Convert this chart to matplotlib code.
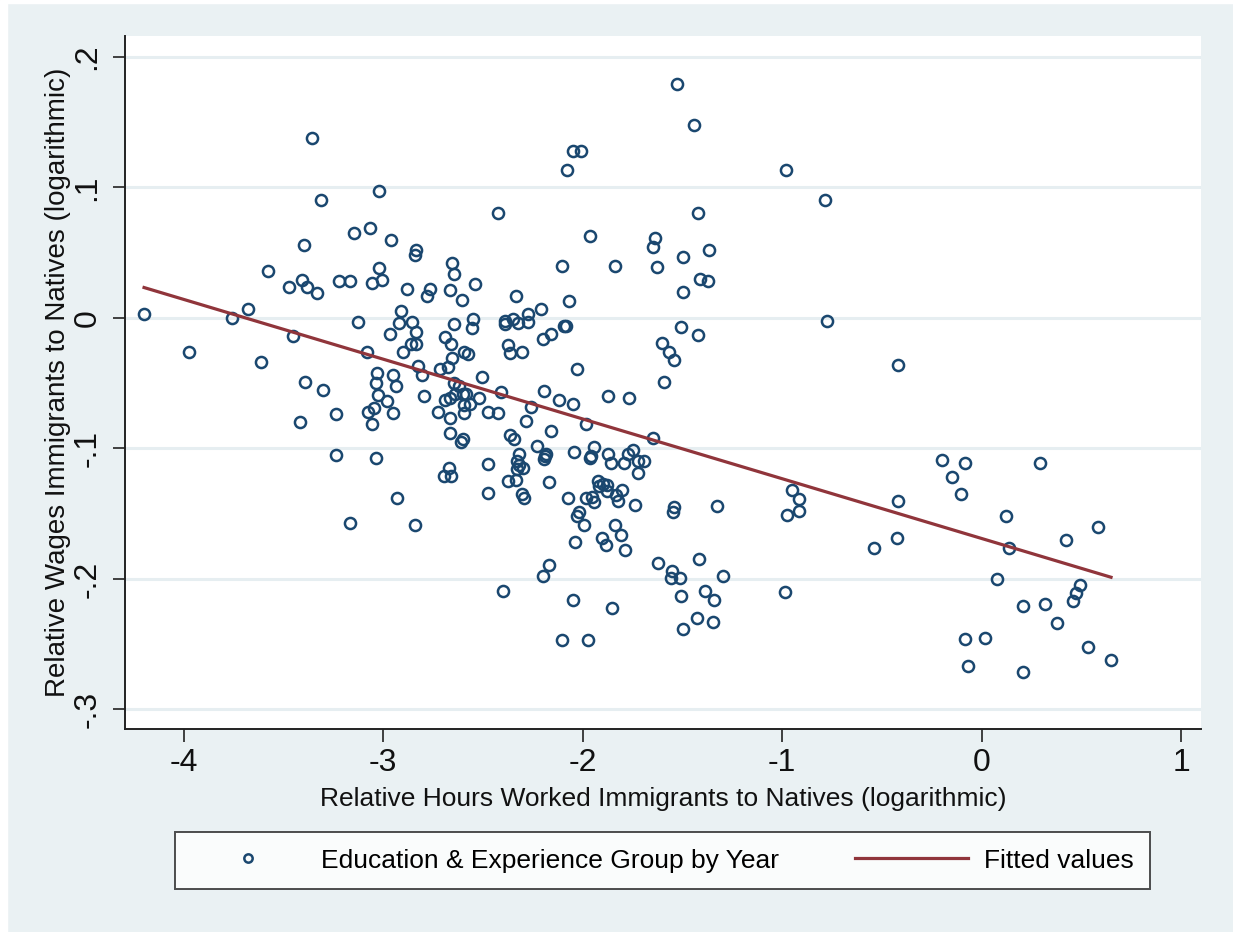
import matplotlib
matplotlib.use("Agg")
from matplotlib import pyplot as plt
from matplotlib.patches import Rectangle

plt.rcParams['font.family'] = ['Liberation Sans', 'DejaVu Sans']

# log relative hours (x) and log relative wages (y), one point per group/year
hours = [
    -3.357, -3.312, -3.396, -3.575, -3.471, -3.406, -3.383, -3.329, -4.198, -3.755,
    -3.677, -3.451, -3.972, -3.613, -3.391, -3.301, -3.418,
    -3.020, -2.425, -3.147, -3.065, -2.960, -2.836, -2.838, -2.654, -2.643, -3.022,
    -3.219, -3.164, -3.057, -3.003, -2.880, -2.764, -2.778, -2.666, -2.606, -2.539,
    -2.910, -3.125, -2.918, -2.855, -2.835, -2.966, -2.643, -2.547, -2.554, -2.689,
    -2.661, -2.858, -2.836, -2.901, -3.080, -2.593, -2.572, -2.652, -2.823, -2.804,
    -2.714, -2.673, -3.029, -2.950, -2.505, -3.035, -2.936, -2.794, -3.024, -2.978,
    -2.643, -2.618, -2.583, -2.520, -2.691, -2.664, -2.638, -2.601, -2.596, -2.564,
    -2.596, -2.723, -2.472, -2.425, -3.236, -3.074, -3.045, -2.948, -3.057, -2.666,
    -2.666, -2.601, -2.609, -3.236, -3.035, -2.472, -2.669, -2.694, -2.661, -2.472,
    -2.931, -3.165, -2.838,
    -2.049, -2.008, -2.076, -1.964, -2.104, -1.839, -1.638, -1.647, -1.627, -2.333,
    -2.209, -2.068, -2.388, -2.388, -2.347, -2.322, -2.275, -2.272, -2.093, -2.083,
    -2.197, -2.158, -2.372, -2.365, -2.305, -2.029, -1.603, -1.566, -1.540, -1.590,
    -2.408, -2.195, -2.119, -2.049, -1.871, -1.767, -2.260, -2.285, -2.156, -1.982,
    -1.647, -2.365, -2.345, -2.227, -2.320, -2.327, -2.320, -2.330, -2.297, -2.181,
    -2.187, -2.192, -2.044, -1.941, -1.957, -1.962, -1.871, -1.859, -1.792, -1.770,
    -1.745, -1.720, -1.692, -1.723, -2.373, -2.335, -2.166, -2.302, -2.293, -2.071,
    -1.982, -1.954, -1.944,
    -1.921, -1.896, -1.916, -1.879, -1.879, -1.832, -1.800, -1.821, -1.735, -1.543,
    -1.548, -2.016, -2.026, -1.991, -1.837, -1.809, -1.904, -1.881, -2.039, -1.788,
    -1.622, -1.550, -1.556, -2.168, -2.197, -2.397, -2.046, -1.852, -2.101, -1.971,
    -0.948, -0.913, -0.913, -0.976, -1.326, -1.511, -1.415, -1.294, -1.506, -1.385,
    -1.339, -0.983, -1.428, -1.346, -1.498,
    -1.528, -1.441, -0.981, -0.783, -1.423, -1.495, -1.366, -1.411, -1.369, -1.495,
    -0.773, -1.505, -1.423,
    -0.419, -0.200, -0.081, -0.149, -0.104, 0.295, -0.419, -0.424, -0.537, 0.124,
    0.139, 0.425, 0.585, 0.076, 0.208, 0.317, 0.377, 0.494, 0.475, 0.460,
    -0.081, 0.016, -0.069, 0.208, 0.534, 0.649,
]
wages = [
    0.138, 0.090, 0.056, 0.036, 0.024, 0.029, 0.024, 0.019, 0.003, 0.000,
    0.007, -0.014, -0.026, -0.034, -0.049, -0.055, -0.080,
    0.097, 0.080, 0.065, 0.069, 0.060, 0.052, 0.048, 0.042, 0.034, 0.038,
    0.028, 0.028, 0.027, 0.029, 0.022, 0.022, 0.017, 0.021, 0.014, 0.026,
    0.005, -0.003, -0.004, -0.003, -0.011, -0.012, -0.005, -0.001, -0.008, -0.015,
    -0.020, -0.020, -0.020, -0.026, -0.026, -0.026, -0.028, -0.031, -0.037, -0.044,
    -0.039, -0.038, -0.042, -0.044, -0.045, -0.050, -0.052, -0.060, -0.059, -0.064,
    -0.050, -0.052, -0.058, -0.061, -0.063, -0.061, -0.058, -0.058, -0.067, -0.066,
    -0.073, -0.072, -0.072, -0.073, -0.074, -0.072, -0.069, -0.073, -0.081, -0.077,
    -0.088, -0.093, -0.095, -0.105, -0.107, -0.112, -0.115, -0.121, -0.121, -0.134,
    -0.138, -0.157, -0.159,
    0.128, 0.128, 0.113, 0.063, 0.040, 0.040, 0.061, 0.054, 0.039, 0.017,
    0.007, 0.013, -0.002, -0.005, -0.001, -0.004, -0.003, 0.003, -0.006, -0.006,
    -0.016, -0.012, -0.021, -0.027, -0.026, -0.039, -0.019, -0.026, -0.032, -0.049,
    -0.057, -0.056, -0.063, -0.066, -0.060, -0.061, -0.068, -0.079, -0.087, -0.081,
    -0.092, -0.090, -0.093, -0.098, -0.104, -0.110, -0.113, -0.116, -0.115, -0.104,
    -0.106, -0.108, -0.103, -0.099, -0.106, -0.107, -0.104, -0.111, -0.111, -0.104,
    -0.101, -0.110, -0.110, -0.119, -0.125, -0.124, -0.126, -0.135, -0.138, -0.138,
    -0.138, -0.137, -0.141,
    -0.125, -0.127, -0.129, -0.128, -0.133, -0.136, -0.132, -0.140, -0.143, -0.145,
    -0.149, -0.149, -0.152, -0.159, -0.159, -0.166, -0.169, -0.174, -0.172, -0.178,
    -0.188, -0.194, -0.199, -0.189, -0.198, -0.209, -0.216, -0.222, -0.247, -0.247,
    -0.132, -0.139, -0.148, -0.151, -0.144, -0.199, -0.185, -0.198, -0.213, -0.209,
    -0.216, -0.210, -0.230, -0.233, -0.238,
    0.179, 0.148, 0.113, 0.090, 0.080, 0.047, 0.052, 0.030, 0.028, 0.020,
    -0.002, -0.007, -0.013,
    -0.036, -0.109, -0.111, -0.122, -0.135, -0.111, -0.140, -0.169, -0.176, -0.152,
    -0.176, -0.170, -0.160, -0.200, -0.221, -0.219, -0.234, -0.205, -0.211, -0.217,
    -0.246, -0.245, -0.267, -0.271, -0.252, -0.262,
]

# fitted line
fit_intercept = -0.169
fit_slope = -0.0458

x_ticks = [-4, -3, -2, -1, 0, 1]
y_ticks = [0.2, 0.1, 0.0, -0.1, -0.2, -0.3]
y_tick_labels = ['.2', '.1', '0', '-.1', '-.2', '-.3']

navy = '#1a476f'
maroon = '#90353b'
bg = '#eaf1f3'

W, H = 1233, 932
fig = plt.figure(figsize=(W / 100, H / 100), dpi=100, facecolor=bg)
# thin white strips on the top/left edge
fig.patches.append(Rectangle((0, 0), 7 / W, 1, transform=fig.transFigure, color='white', zorder=-1))
fig.patches.append(Rectangle((0, 1 - 3 / H), 1, 3 / H, transform=fig.transFigure, color='white', zorder=-1))

left, right, top, bottom = 124.5, 1201, 36, 729
ax = fig.add_axes([left / W, 1 - bottom / H, (right - left) / W, (bottom - top) / H])
ax.set_facecolor('white')

pts, = ax.plot(hours, wages, linestyle='none', marker='o', markersize=8,
               markerfacecolor='none', markeredgecolor=navy, markeredgewidth=1.8,
               label='Education & Experience Group by Year', zorder=3)
x0, x1 = min(hours), max(hours)
ln, = ax.plot([x0, x1], [fit_intercept + fit_slope * x0, fit_intercept + fit_slope * x1],
              color=maroon, linewidth=2.3, label='Fitted values', zorder=4)

ax.set_xlim(-4.296, 1.100)
ax.set_ylim(-0.315, 0.216)
ax.set_xticks(x_ticks)
ax.set_xticklabels([str(t) for t in x_ticks])
ax.set_yticks(y_ticks)
ax.set_yticklabels(y_tick_labels, rotation=90, va='center')
ax.yaxis.grid(True, color='#e6eef1', linewidth=2.2, zorder=0)
ax.set_axisbelow(True)

for s in ['top', 'right']:
    ax.spines[s].set_visible(False)
for s in ['left', 'bottom']:
    ax.spines[s].set_color('#222222')
    ax.spines[s].set_linewidth(1.4)
ax.tick_params(axis='both', length=9, width=1.2, color='#222222', labelsize=23,
               labelcolor='#111111')
ax.tick_params(axis='x', pad=5)
ax.tick_params(axis='y', pad=7)

ax.set_xlabel('Relative Hours Worked Immigrants to Natives (logarithmic)', fontsize=19,
              color='#111111', va='top')
ax.xaxis.set_label_coords(0.5, -0.083)
ax.set_ylabel('Relative Wages Immigrants to Natives (logarithmic)', fontsize=20,
              color='#111111')
ax.yaxis.set_label_coords(-0.05, 0.5)

leg = fig.legend(handles=[pts, ln], loc='lower left', ncol=2, mode='expand',
                 bbox_to_anchor=(175 / W, 1 - 889 / H, 975 / W, 58 / H),
                 fontsize=19, frameon=True, fancybox=False, handlelength=4.3,
                 handletextpad=0.6, markerscale=0.75, borderaxespad=0,
                 borderpad=0.62, columnspacing=1.0)
leg.get_frame().set_edgecolor('#222222')
leg.get_frame().set_linewidth(1.4)
leg.get_frame().set_facecolor('white')

fig.savefig('out.png', dpi=100, facecolor=bg)
